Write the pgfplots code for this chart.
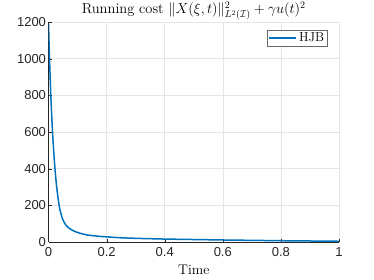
\documentclass[border=0pt]{standalone}
\usepackage{fontspec}
\setsansfont{Liberation Sans}
\usepackage{amsmath}
\usepackage{pgfplots}
\pgfplotsset{compat=1.18}
\definecolor{mblue}{rgb}{0,0.447,0.741}
\definecolor{maxis}{rgb}{0.15,0.15,0.15}
\definecolor{mgrid}{rgb}{0.9,0.9,0.9}
\begin{document}
\begin{tikzpicture}
\begin{axis}[
  at={(0pt,0pt)}, anchor=south west,
  scale only axis, width=290.5pt, height=220pt,
  xmin=0, xmax=1, ymin=0, ymax=1200,
  xtick={0,0.2,0.4,0.6,0.8,1}, ytick={0,200,400,600,800,1000,1200},
  xticklabels={0,0.2,0.4,0.6,0.8,1},
  scaled y ticks=false,
  yticklabel style={/pgf/number format/1000 sep={}, xshift=1pt},
  xticklabel style={yshift=-2pt},
  /pgf/number format/assume math mode=true,
  tick label style={font=\sffamily\fontsize{13}{15}\selectfont, color=maxis},
  axis x line*=bottom, axis y line*=left,
  axis line style={maxis, -},
  tick align=inside, major tick length=3pt,
  tick style={maxis},
  grid=major, major grid style={mgrid, line width=0.5pt},
  xlabel={Time},
  xlabel style={font=\fontsize{14}{16}\selectfont, yshift=-1pt},
  title={Running cost $\|X(\xi,t)\|^2_{L^2(\mathcal{I})}+\gamma u(t)^2$},
  title style={font=\fontsize{14.5}{16}\selectfont, yshift=-8pt},
  legend style={at={(rel axis cs:0.96,0.965)}, anchor=north east, draw=maxis!70, font=\fontsize{13}{15}\selectfont, inner sep=1pt, row sep=0pt},
  legend image code/.code={\draw[mblue, line width=1.5pt] (0pt,0pt) -- (27pt,0pt);},
  legend cell align=left,
]
\addplot[mblue, line width=1.5pt] coordinates {
(0,1190) (0.0025,1050) (0.005,930) (0.0075,820) (0.01,725) (0.0125,640) (0.015,570)
(0.0175,505) (0.02,448) (0.0225,395) (0.025,350) (0.0275,310) (0.03,275) (0.0325,243)
(0.035,215) (0.0375,192) (0.04,172) (0.045,142) (0.05,120) (0.055,104) (0.06,92)
(0.07,76) (0.08,66) (0.09,58) (0.1,52) (0.11,47) (0.12,43) (0.135,38) (0.15,35)
(0.175,31) (0.2,28) (0.25,23) (0.3,20) (0.35,18) (0.4,16) (0.5,13.5) (0.6,11)
(0.7,9) (0.8,7) (0.9,5.5) (1.0,4)
};
\addlegendentry{HJB}
\end{axis}
\pgfresetboundingbox
\path[use as bounding box] (-48.5pt,-38pt) rectangle (325.5pt,242pt);
\end{tikzpicture}
\end{document}
